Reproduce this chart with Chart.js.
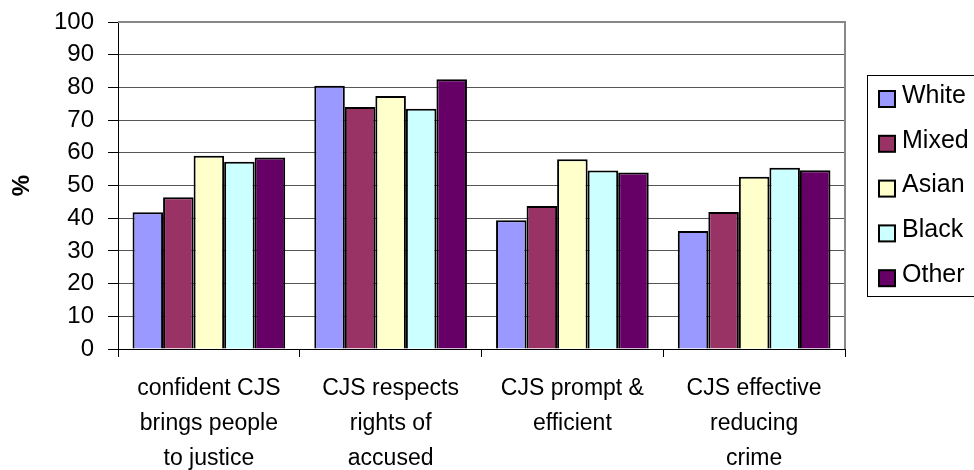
<!DOCTYPE html>
<html>
<head>
<meta charset="utf-8">
<script src="https://cdn.jsdelivr.net/npm/chart.js@4"></script>
<style>
  html, body { margin: 0; padding: 0; background: #fff; }
  #wrap { width: 974px; height: 470px; position: relative; }
</style>
</head>
<body>
<div id="wrap"><canvas id="chart"></canvas></div>
<script>
// categories (multi-line labels as shown under the axis)
var categories = [
  ["confident CJS", "brings people", "to justice"],
  ["CJS respects", "rights of", "accused"],
  ["CJS prompt &", "efficient"],
  ["CJS effective", "reducing", "crime"]
];

var groups = ["White", "Mixed", "Asian", "Black", "Other"];
var groupColors = ["#9999FF", "#993366", "#FFFFCC", "#CCFFFF", "#660066"];

// % per group, one value for each category
var white = [41.8, 80.5, 39.4, 36.1];
var mixed = [46.4, 74.0, 43.7, 41.9];
var asian = [59.1, 77.4, 58.0, 52.7];
var black = [57.3, 73.5, 54.6, 55.4];
var other = [58.6, 82.5, 54.0, 54.7];

var yTicks = [0, 10, 20, 30, 40, 50, 60, 70, 80, 90, 100];

var series = [white, mixed, asian, black, other];
var FONT = "'Liberation Sans', Arial, sans-serif";

var datasets = groups.map(function(name, i) {
  return {
    label: name,
    data: series[i],
    backgroundColor: groupColors[i],
    borderColor: "#000",
    borderWidth: 2,
    borderSkipped: "bottom",
    categoryPercentage: 0.84,
    barPercentage: 1.0
  };
});

// grey frame on top/right of the plot
var frame = {
  id: "frame",
  afterDraw: function(chart) {
    var a = chart.chartArea, ctx = chart.ctx;
    ctx.save();
    ctx.strokeStyle = "#888";
    ctx.lineWidth = 2;
    ctx.beginPath();
    ctx.moveTo(a.left, a.top);
    ctx.lineTo(a.right, a.top);
    ctx.lineTo(a.right, a.bottom);
    ctx.stroke();
    ctx.restore();
  }
};

// boxed legend on the right, like the old excel one
var boxLegend = {
  id: "boxLegend",
  afterDraw: function(chart) {
    var ctx = chart.ctx;
    ctx.save();
    ctx.strokeStyle = "#000";
    ctx.lineWidth = 1;
    ctx.strokeRect(867.5, 75.5, 120, 221);
    ctx.font = "25px " + FONT;
    ctx.textBaseline = "middle";
    chart.data.datasets.forEach(function(ds, i) {
      var cy = 99 + i * 44.8;
      ctx.fillStyle = ds.backgroundColor;
      ctx.fillRect(879, cy - 8, 16, 16);
      ctx.lineWidth = 2;
      ctx.strokeRect(879, cy - 8, 16, 16);
      ctx.fillStyle = "#000";
      ctx.fillText(ds.label, 902, cy - 3);
    });
    ctx.restore();
  }
};

new Chart(document.getElementById("chart"), {
  type: "bar",
  data: { labels: categories, datasets: datasets },
  plugins: [frame, boxLegend],
  options: {
    responsive: true,
    maintainAspectRatio: false,
    devicePixelRatio: 1,
    animation: false,
    layout: { padding: { top: 22, right: 129, left: 0, bottom: 0 } },
    plugins: {
      legend: { display: false },
      tooltip: { enabled: false }
    },
    scales: {
      x: {
        afterFit: function(s) { s.height = 121; s.paddingLeft = 0; s.paddingRight = 0; },
        grid: {
          display: true,
          drawOnChartArea: false,
          offset: true,
          color: "#000",
          tickLength: 8
        },
        border: { color: "#000", width: 1 },
        ticks: {
          color: "#000",
          padding: 14,
          maxRotation: 0,
          font: { family: FONT, size: 23, lineHeight: 1.52 }
        }
      },
      y: {
        min: 0,
        max: 100,
        afterFit: function(s) { s.width = 118; s.paddingTop = 0; s.paddingBottom = 0; },
        afterBuildTicks: function(s) {
          s.ticks = yTicks.map(function(v) { return { value: v }; });
        },
        grid: {
          color: "#555",
          lineWidth: 1,
          tickColor: "#000",
          tickLength: 10
        },
        border: { color: "#000", width: 1 },
        ticks: {
          color: "#000",
          padding: 14,
          font: { family: FONT, size: 24 }
        },
        title: {
          display: true,
          text: "%",
          color: "#000",
          padding: { top: 8, bottom: 0 },
          font: { family: FONT, size: 24, weight: "bold" }
        }
      }
    }
  }
});
</script>
</body>
</html>
